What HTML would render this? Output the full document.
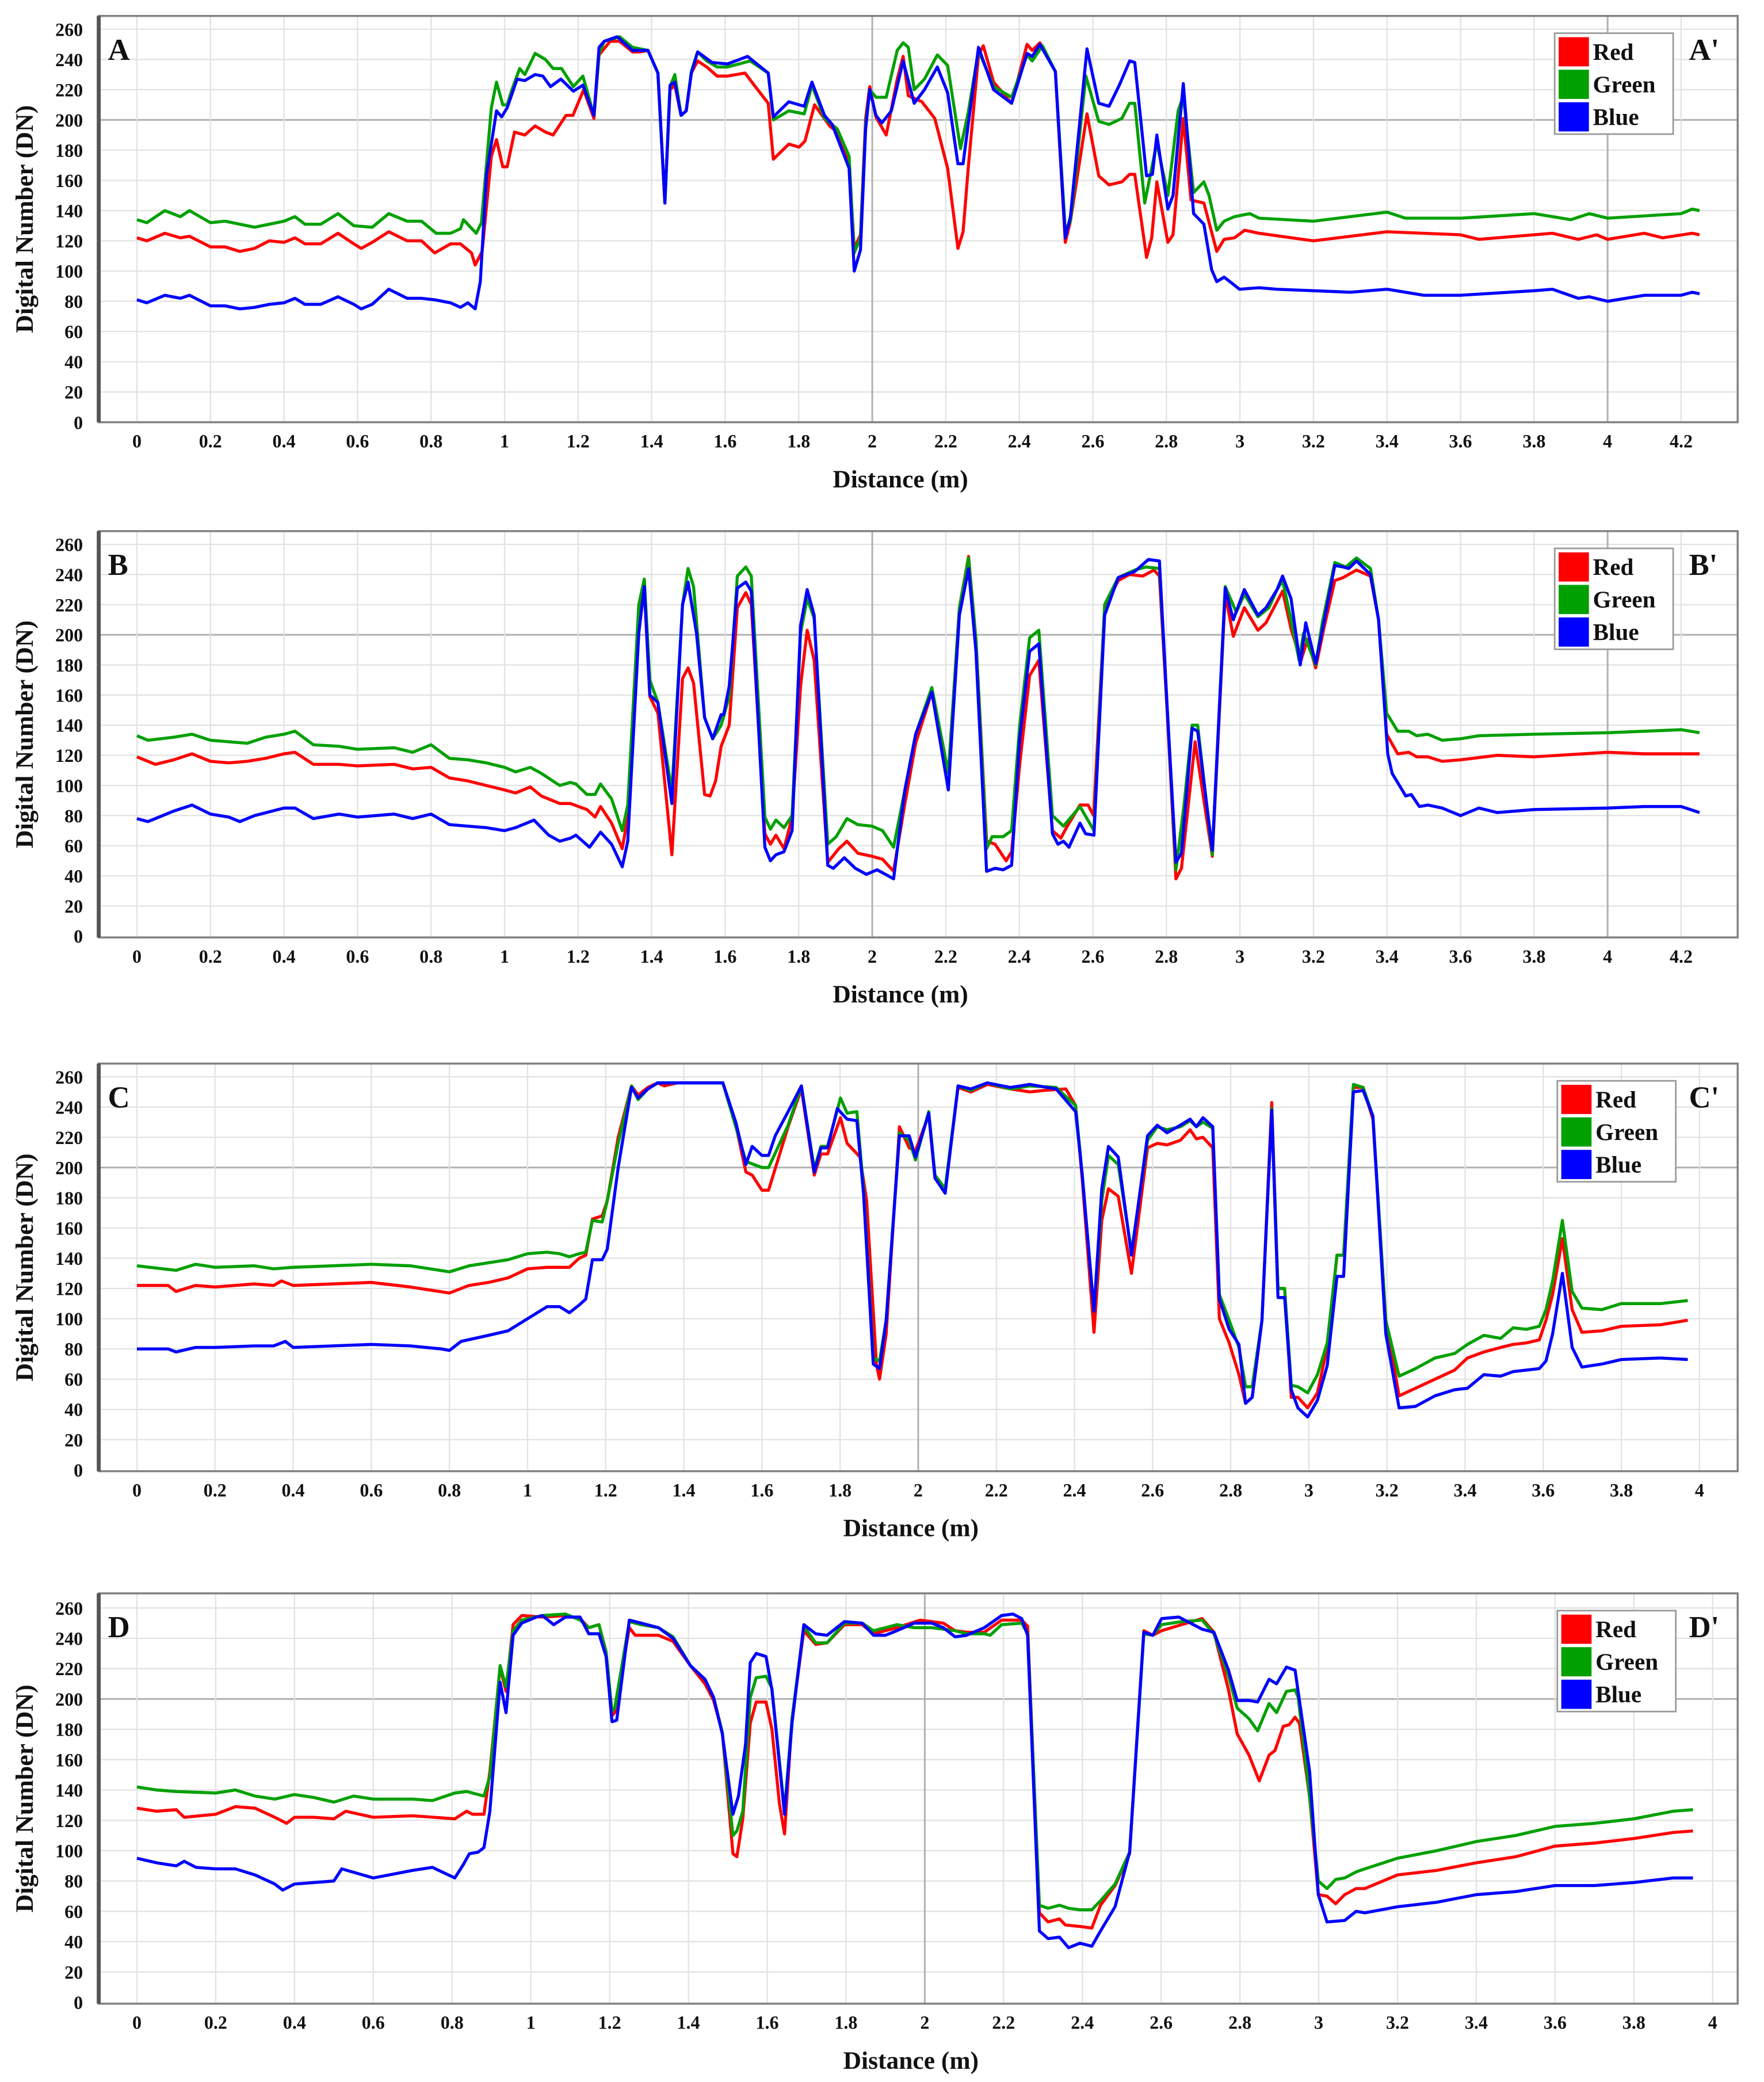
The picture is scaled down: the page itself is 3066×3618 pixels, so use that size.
<!DOCTYPE html>
<html><head><meta charset="utf-8"><style>
html,body{margin:0;padding:0;background:#fff;}
svg{display:block;}
text{font-family:"Liberation Serif",serif;font-weight:bold;fill:#111;}
</style></head><body>
<svg id="fig" width="3066" height="3618" viewBox="0 0 1340 1568" preserveAspectRatio="none" xmlns="http://www.w3.org/2000/svg"></svg>
<script>
// ---------- data (x in metres, y in DN) ----------
const yTicks=[0,20,40,60,80,100,120,140,160,180,200,220,240,260];
const xTicksAB=[0,0.2,0.4,0.6,0.8,1,1.2,1.4,1.6,1.8,2,2.2,2.4,2.6,2.8,3,3.2,3.4,3.6,3.8,4,4.2];
const xTicksCD=[0,0.2,0.4,0.6,0.8,1,1.2,1.4,1.6,1.8,2,2.2,2.4,2.6,2.8,3,3.2,3.4,3.6,3.8,4];
const panelLetters=["A","B","C","D"];

const aRed=[[0,122],[0.027,120],[0.076,125],[0.118,122],[0.143,123],[0.2,116],[0.24,116],[0.28,113],[0.32,115],[0.36,120],[0.4,119],[0.43,122],[0.457,118],[0.5,118],[0.547,125],[0.59,118],[0.61,115],[0.64,119],[0.685,126],[0.735,120],[0.774,120],[0.81,112],[0.853,118],[0.88,118],[0.91,112],[0.92,104],[0.939,113],[0.964,176],[0.978,187],[0.995,169],[1.007,169],[1.027,192],[1.055,190],[1.083,196],[1.111,192],[1.132,190],[1.167,203],[1.186,203],[1.215,220],[1.243,201],[1.257,243],[1.287,252],[1.313,252],[1.348,245],[1.369,245],[1.39,246],[1.417,231],[1.436,145],[1.45,220],[1.463,223],[1.48,203],[1.494,206],[1.508,231],[1.525,239],[1.55,235],[1.578,229],[1.606,229],[1.654,231],[1.682,222],[1.717,211],[1.731,174],[1.773,184],[1.801,182],[1.817,186],[1.843,210],[1.884,196],[1.905,192],[1.937,171],[1.951,115],[1.968,124],[1.982,201],[1.993,222],[2.01,202],[2.038,190],[2.068,227],[2.084,242],[2.098,216],[2.135,212],[2.17,201],[2.205,168],[2.233,115],[2.247,126],[2.261,168],[2.289,243],[2.302,249],[2.33,225],[2.379,211],[2.421,250],[2.435,246],[2.456,251],[2.498,232],[2.525,119],[2.539,133],[2.584,204],[2.616,163],[2.644,157],[2.679,159],[2.7,164],[2.714,164],[2.746,109],[2.76,122],[2.774,159],[2.804,119],[2.818,124],[2.846,201],[2.867,147],[2.902,145],[2.937,113],[2.957,121],[2.985,122],[3.013,127],[3.052,125],[3.2,120],[3.4,126],[3.6,124],[3.65,121],[3.8,124],[3.85,125],[3.92,121],[3.97,124],[4.0,121],[4.1,125],[4.15,122],[4.23,125],[4.25,124]];
const aGreen=[[0,134],[0.027,132],[0.076,140],[0.118,136],[0.143,140],[0.2,132],[0.24,133],[0.28,131],[0.32,129],[0.4,133],[0.43,136],[0.457,131],[0.5,131],[0.547,138],[0.59,130],[0.64,129],[0.685,138],[0.735,133],[0.774,133],[0.814,125],[0.853,125],[0.88,128],[0.888,134],[0.923,125],[0.937,132],[0.964,208],[0.978,225],[0.995,210],[1.007,210],[1.02,220],[1.041,234],[1.055,230],[1.083,244],[1.111,240],[1.132,234],[1.155,234],[1.187,222],[1.213,229],[1.243,203],[1.257,244],[1.271,252],[1.313,255],[1.348,248],[1.39,246],[1.417,231],[1.436,145],[1.45,222],[1.463,230],[1.48,203],[1.494,206],[1.508,232],[1.525,245],[1.55,239],[1.578,235],[1.606,235],[1.668,239],[1.717,231],[1.731,200],[1.773,206],[1.815,204],[1.836,223],[1.87,201],[1.905,194],[1.937,176],[1.951,112],[1.968,122],[1.982,197],[1.993,220],[2.01,215],[2.038,215],[2.068,246],[2.084,251],[2.098,248],[2.114,220],[2.142,227],[2.177,243],[2.205,236],[2.24,181],[2.261,205],[2.289,246],[2.33,222],[2.379,215],[2.421,243],[2.435,239],[2.463,249],[2.498,232],[2.525,127],[2.539,133],[2.581,229],[2.616,199],[2.644,197],[2.679,201],[2.7,211],[2.714,211],[2.741,145],[2.774,185],[2.804,150],[2.832,206],[2.846,216],[2.874,152],[2.902,159],[2.916,150],[2.937,127],[2.957,133],[2.985,136],[3.027,138],[3.052,135],[3.2,133],[3.4,139],[3.45,135],[3.6,135],[3.8,138],[3.9,134],[3.95,138],[4.0,135],[4.2,138],[4.23,141],[4.25,140]];
const aBlue=[[0,81],[0.027,79],[0.076,84],[0.118,82],[0.143,84],[0.2,77],[0.24,77],[0.28,75],[0.32,76],[0.36,78],[0.4,79],[0.43,82],[0.457,78],[0.5,78],[0.547,83],[0.59,78],[0.61,75],[0.64,78],[0.685,88],[0.735,82],[0.774,82],[0.81,81],[0.853,79],[0.88,76],[0.9,79],[0.92,75],[0.934,93],[0.951,164],[0.978,206],[0.992,202],[1.007,208],[1.034,227],[1.055,226],[1.083,230],[1.104,229],[1.125,222],[1.153,227],[1.187,219],[1.213,223],[1.243,203],[1.257,248],[1.271,252],[1.306,255],[1.348,246],[1.39,246],[1.417,231],[1.436,145],[1.45,223],[1.463,225],[1.48,203],[1.494,206],[1.508,231],[1.525,245],[1.564,238],[1.606,237],[1.661,242],[1.717,231],[1.731,202],[1.773,212],[1.815,209],[1.836,225],[1.87,203],[1.891,197],[1.937,168],[1.951,100],[1.968,114],[1.982,194],[1.993,220],[2.01,203],[2.026,198],[2.052,206],[2.084,239],[2.114,211],[2.142,220],[2.177,235],[2.205,218],[2.233,171],[2.247,171],[2.261,197],[2.289,248],[2.33,220],[2.379,211],[2.421,244],[2.435,242],[2.456,250],[2.498,232],[2.525,122],[2.539,136],[2.584,247],[2.616,211],[2.644,209],[2.672,223],[2.7,239],[2.714,238],[2.746,163],[2.762,164],[2.774,190],[2.804,141],[2.818,150],[2.846,224],[2.874,138],[2.902,131],[2.923,101],[2.937,93],[2.957,96],[2.999,88],[3.052,89],[3.1,88],[3.3,86],[3.4,88],[3.5,84],[3.6,84],[3.8,87],[3.85,88],[3.92,82],[3.95,83],[4.0,80],[4.1,84],[4.2,84],[4.23,86],[4.25,85]];

const bRed=[[0,119],[0.05,114],[0.1,117],[0.15,121],[0.2,116],[0.25,115],[0.3,116],[0.35,118],[0.4,121],[0.43,122],[0.48,114],[0.55,114],[0.6,113],[0.7,114],[0.75,111],[0.8,112],[0.85,105],[0.9,103],[0.95,100],[1.0,97],[1.03,95],[1.07,99],[1.1,93],[1.15,88],[1.179,88],[1.224,84],[1.246,79],[1.261,86],[1.291,75],[1.32,58],[1.335,79],[1.365,218],[1.38,231],[1.395,159],[1.417,148],[1.455,54],[1.484,171],[1.499,178],[1.514,168],[1.544,94],[1.559,93],[1.574,103],[1.589,126],[1.611,140],[1.633,218],[1.656,228],[1.671,220],[1.708,68],[1.723,61],[1.738,67],[1.76,58],[1.782,79],[1.805,166],[1.823,203],[1.842,183],[1.879,49],[1.909,58],[1.931,63],[1.961,55],[1.999,53],[2.028,51],[2.058,43],[2.088,87],[2.118,128],[2.162,162],[2.207,108],[2.237,218],[2.262,252],[2.282,197],[2.311,63],[2.334,61],[2.364,50],[2.379,56],[2.401,114],[2.428,173],[2.453,183],[2.49,70],[2.513,65],[2.528,72],[2.565,87],[2.587,87],[2.602,80],[2.632,218],[2.669,236],[2.699,240],[2.736,239],[2.766,243],[2.781,239],[2.803,145],[2.826,38],[2.841,45],[2.878,129],[2.925,53],[2.96,227],[2.982,199],[3.012,218],[3.049,203],[3.071,208],[3.116,229],[3.139,204],[3.166,183],[3.184,197],[3.206,178],[3.228,204],[3.258,236],[3.281,238],[3.317,243],[3.355,239],[3.377,210],[3.399,134],[3.429,121],[3.459,122],[3.481,119],[3.511,119],[3.55,116],[3.6,117],[3.7,120],[3.8,119],[4.0,122],[4.1,121],[4.25,121]];
const bGreen=[[0,133],[0.03,130],[0.1,132],[0.15,134],[0.2,130],[0.25,129],[0.3,128],[0.35,132],[0.4,134],[0.43,136],[0.48,127],[0.55,126],[0.6,124],[0.7,125],[0.75,122],[0.8,127],[0.85,118],[0.9,117],[0.95,115],[1.0,112],[1.03,109],[1.07,112],[1.1,108],[1.15,100],[1.179,102],[1.194,101],[1.224,94],[1.246,94],[1.261,101],[1.291,91],[1.32,70],[1.335,87],[1.365,220],[1.38,237],[1.395,170],[1.417,155],[1.455,96],[1.484,220],[1.499,244],[1.514,232],[1.544,145],[1.566,131],[1.589,140],[1.611,159],[1.633,239],[1.656,245],[1.671,239],[1.708,79],[1.723,71],[1.738,77],[1.76,72],[1.782,80],[1.805,201],[1.823,224],[1.842,211],[1.879,61],[1.902,66],[1.931,78],[1.961,74],[1.999,73],[2.028,70],[2.058,59],[2.088,96],[2.118,134],[2.162,165],[2.207,108],[2.237,218],[2.262,251],[2.282,197],[2.311,58],[2.326,66],[2.356,66],[2.379,70],[2.401,140],[2.428,198],[2.453,203],[2.49,80],[2.52,73],[2.565,86],[2.603,70],[2.632,220],[2.669,238],[2.714,243],[2.744,245],[2.781,244],[2.803,148],[2.826,44],[2.848,87],[2.87,140],[2.885,140],[2.925,54],[2.96,232],[2.99,215],[3.012,227],[3.049,212],[3.079,218],[3.101,230],[3.116,236],[3.139,210],[3.161,183],[3.173,201],[3.206,180],[3.224,208],[3.258,248],[3.288,245],[3.317,251],[3.355,244],[3.377,210],[3.399,148],[3.429,136],[3.459,136],[3.481,133],[3.511,134],[3.55,130],[3.6,131],[3.65,133],[3.8,134],[4.0,135],[4.2,137],[4.25,135]];
const bBlue=[[0,78],[0.03,76],[0.1,83],[0.15,87],[0.2,81],[0.25,79],[0.28,76],[0.32,80],[0.4,85],[0.43,85],[0.48,78],[0.55,81],[0.6,79],[0.7,81],[0.75,78],[0.8,81],[0.85,74],[0.9,73],[0.95,72],[1.0,70],[1.03,72],[1.08,77],[1.12,67],[1.15,63],[1.179,65],[1.194,67],[1.231,59],[1.261,69],[1.291,61],[1.32,46],[1.335,63],[1.365,201],[1.38,232],[1.395,160],[1.417,155],[1.455,88],[1.484,220],[1.499,235],[1.522,201],[1.544,145],[1.566,131],[1.589,147],[1.596,147],[1.611,166],[1.633,231],[1.656,235],[1.671,229],[1.708,59],[1.723,50],[1.738,54],[1.76,56],[1.782,70],[1.805,206],[1.823,230],[1.842,213],[1.879,47],[1.894,45],[1.924,52],[1.954,45],[1.984,41],[2.013,44],[2.036,41],[2.058,38],[2.088,96],[2.118,134],[2.162,162],[2.207,97],[2.237,213],[2.262,244],[2.282,189],[2.311,43],[2.334,45],[2.356,44],[2.379,47],[2.401,131],[2.428,189],[2.453,194],[2.49,68],[2.505,61],[2.52,63],[2.535,59],[2.565,75],[2.58,68],[2.603,67],[2.632,213],[2.669,238],[2.714,242],[2.751,250],[2.781,249],[2.803,148],[2.826,49],[2.841,55],[2.87,138],[2.885,136],[2.925,57],[2.96,231],[2.982,210],[3.012,230],[3.049,213],[3.071,218],[3.101,230],[3.116,239],[3.139,224],[3.164,180],[3.179,208],[3.206,181],[3.224,203],[3.258,246],[3.281,245],[3.296,244],[3.317,249],[3.355,240],[3.377,210],[3.402,121],[3.414,108],[3.451,93],[3.466,94],[3.488,86],[3.511,87],[3.55,85],[3.6,80],[3.65,85],[3.7,82],[3.8,84],[4.0,85],[4.1,86],[4.2,86],[4.25,82]];

const cRed=[[0,122],[0.08,122],[0.1,118],[0.15,122],[0.2,121],[0.3,123],[0.35,122],[0.37,125],[0.4,122],[0.6,124],[0.7,121],[0.8,117],[0.85,122],[0.9,124],[0.95,127],[1.0,133],[1.05,134],[1.082,134],[1.107,134],[1.132,140],[1.149,142],[1.166,166],[1.191,168],[1.204,178],[1.232,220],[1.266,254],[1.283,248],[1.308,253],[1.333,256],[1.35,254],[1.383,256],[1.5,256],[1.533,228],[1.559,197],[1.575,195],[1.6,185],[1.617,185],[1.642,206],[1.667,227],[1.701,252],[1.734,195],[1.751,209],[1.768,209],[1.801,233],[1.818,216],[1.851,207],[1.868,178],[1.893,70],[1.901,60],[1.918,90],[1.952,227],[1.977,213],[1.993,211],[2.027,235],[2.043,193],[2.069,185],[2.102,253],[2.135,250],[2.177,255],[2.236,252],[2.286,250],[2.32,251],[2.378,252],[2.403,241],[2.42,192],[2.45,91],[2.47,165],[2.487,186],[2.512,181],[2.546,130],[2.587,213],[2.612,216],[2.637,215],[2.671,218],[2.696,225],[2.712,219],[2.729,220],[2.754,213],[2.771,100],[2.796,84],[2.821,63],[2.838,44],[2.855,48],[2.88,99],[2.905,243],[2.921,120],[2.938,120],[2.955,48],[2.972,48],[2.997,41],[3.022,51],[3.047,81],[3.072,142],[3.089,142],[3.114,253],[3.139,253],[3.164,232],[3.197,99],[3.231,49],[3.273,54],[3.323,60],[3.373,66],[3.406,74],[3.448,78],[3.491,81],[3.523,83],[3.557,84],[3.59,86],[3.607,99],[3.624,116],[3.649,153],[3.674,106],[3.699,91],[3.75,92],[3.8,95],[3.9,96],[3.97,99]];
const cGreen=[[0,135],[0.1,132],[0.15,136],[0.2,134],[0.3,135],[0.35,133],[0.4,134],[0.6,136],[0.7,135],[0.8,131],[0.85,135],[0.9,137],[0.95,139],[1.0,143],[1.05,144],[1.082,143],[1.107,141],[1.132,143],[1.149,144],[1.166,165],[1.191,164],[1.204,178],[1.232,216],[1.266,254],[1.283,245],[1.308,252],[1.333,256],[1.5,256],[1.533,227],[1.559,204],[1.6,200],[1.617,200],[1.642,214],[1.667,228],[1.701,254],[1.734,199],[1.751,214],[1.768,214],[1.801,246],[1.818,236],[1.843,237],[1.86,186],[1.885,74],[1.901,72],[1.918,99],[1.952,223],[1.977,218],[1.993,205],[2.027,237],[2.043,195],[2.069,186],[2.102,254],[2.135,251],[2.177,256],[2.236,252],[2.286,254],[2.353,253],[2.403,241],[2.42,195],[2.45,105],[2.47,178],[2.487,208],[2.512,202],[2.546,144],[2.587,218],[2.612,227],[2.637,225],[2.671,227],[2.696,231],[2.712,227],[2.729,230],[2.754,226],[2.771,116],[2.796,99],[2.821,81],[2.838,55],[2.855,55],[2.88,99],[2.905,239],[2.921,120],[2.938,120],[2.955,56],[2.972,55],[2.997,51],[3.022,63],[3.047,84],[3.072,142],[3.089,142],[3.114,255],[3.139,253],[3.164,234],[3.197,99],[3.231,62],[3.273,67],[3.323,74],[3.373,77],[3.406,83],[3.448,89],[3.491,87],[3.523,94],[3.557,93],[3.59,95],[3.607,106],[3.624,125],[3.649,165],[3.674,118],[3.699,107],[3.75,106],[3.8,110],[3.9,110],[3.97,112]];
const cBlue=[[0,80],[0.08,80],[0.1,78],[0.15,81],[0.2,81],[0.3,82],[0.35,82],[0.38,85],[0.4,81],[0.5,82],[0.6,83],[0.7,82],[0.78,80],[0.8,79],[0.83,85],[0.9,89],[0.95,92],[1.0,100],[1.05,108],[1.082,108],[1.107,104],[1.132,109],[1.149,113],[1.166,139],[1.191,139],[1.204,146],[1.232,200],[1.266,253],[1.283,246],[1.308,252],[1.333,256],[1.5,256],[1.533,230],[1.559,202],[1.575,214],[1.6,208],[1.617,208],[1.634,221],[1.667,237],[1.701,254],[1.734,197],[1.751,213],[1.768,213],[1.793,239],[1.818,232],[1.843,231],[1.86,183],[1.885,70],[1.901,67],[1.918,99],[1.952,221],[1.977,221],[1.993,207],[2.027,236],[2.043,193],[2.069,183],[2.102,254],[2.135,252],[2.177,256],[2.236,253],[2.286,255],[2.353,252],[2.403,237],[2.42,195],[2.45,105],[2.47,186],[2.487,214],[2.512,207],[2.546,142],[2.587,221],[2.612,228],[2.637,223],[2.671,228],[2.696,232],[2.712,227],[2.729,233],[2.754,227],[2.771,113],[2.796,93],[2.821,83],[2.838,44],[2.855,48],[2.88,99],[2.905,238],[2.921,114],[2.938,114],[2.955,53],[2.972,41],[2.997,35],[3.022,46],[3.047,69],[3.072,128],[3.089,128],[3.114,250],[3.139,251],[3.164,234],[3.197,90],[3.231,41],[3.273,42],[3.323,49],[3.373,53],[3.406,54],[3.448,63],[3.491,62],[3.523,65],[3.557,66],[3.59,67],[3.607,72],[3.624,90],[3.649,130],[3.674,81],[3.699,68],[3.75,70],[3.8,73],[3.9,74],[3.97,73]];

const dRed=[[0,128],[0.05,126],[0.1,127],[0.12,122],[0.2,124],[0.25,129],[0.3,128],[0.35,122],[0.38,118],[0.4,122],[0.45,122],[0.5,121],[0.53,126],[0.6,122],[0.7,123],[0.807,121],[0.837,126],[0.852,124],[0.881,124],[0.896,152],[0.922,221],[0.937,205],[0.955,249],[0.977,255],[1.029,254],[1.088,255],[1.125,253],[1.147,247],[1.173,249],[1.191,231],[1.206,189],[1.213,191],[1.25,247],[1.265,242],[1.324,242],[1.361,238],[1.405,222],[1.442,210],[1.464,199],[1.486,178],[1.513,98],[1.523,96],[1.538,121],[1.557,184],[1.572,198],[1.597,198],[1.612,180],[1.631,131],[1.644,111],[1.663,187],[1.693,245],[1.723,236],[1.752,237],[1.796,249],[1.841,249],[1.87,243],[1.929,247],[1.988,252],[2.047,250],[2.077,245],[2.106,244],[2.151,244],[2.195,252],[2.246,252],[2.261,248],[2.291,59],[2.313,53],[2.342,55],[2.357,51],[2.394,50],[2.424,49],[2.446,64],[2.483,77],[2.52,98],[2.556,245],[2.579,242],[2.601,245],[2.652,249],[2.704,253],[2.734,244],[2.771,206],[2.793,177],[2.823,163],[2.849,146],[2.874,163],[2.889,166],[2.91,182],[2.925,183],[2.94,188],[2.951,184],[2.977,135],[2.999,71],[3.021,70],[3.043,65],[3.066,71],[3.095,75],[3.117,75],[3.2,84],[3.3,87],[3.4,92],[3.5,96],[3.6,103],[3.7,105],[3.8,108],[3.9,112],[3.95,113]];
const dGreen=[[0,142],[0.05,140],[0.1,139],[0.2,138],[0.25,140],[0.3,136],[0.35,134],[0.4,137],[0.45,135],[0.5,132],[0.55,136],[0.6,134],[0.7,134],[0.75,133],[0.807,138],[0.837,139],[0.881,136],[0.896,149],[0.922,222],[0.937,208],[0.955,245],[0.977,252],[1.029,255],[1.088,256],[1.125,252],[1.147,247],[1.173,249],[1.191,231],[1.206,192],[1.213,194],[1.25,251],[1.28,249],[1.324,247],[1.361,241],[1.405,222],[1.442,213],[1.464,201],[1.486,178],[1.513,110],[1.523,113],[1.538,126],[1.557,201],[1.572,214],[1.597,215],[1.612,207],[1.644,126],[1.663,187],[1.693,248],[1.723,237],[1.752,237],[1.796,250],[1.841,250],[1.87,245],[1.9,247],[1.929,249],[1.973,247],[2.018,247],[2.077,245],[2.106,243],[2.151,243],[2.166,242],[2.195,249],[2.246,250],[2.261,243],[2.291,64],[2.313,62],[2.342,64],[2.365,62],[2.394,61],[2.424,61],[2.446,67],[2.483,78],[2.52,99],[2.556,243],[2.579,242],[2.601,249],[2.652,251],[2.704,252],[2.734,243],[2.771,215],[2.793,194],[2.823,187],[2.845,179],[2.874,197],[2.893,191],[2.918,205],[2.94,206],[2.948,201],[2.977,135],[2.999,80],[3.021,75],[3.043,81],[3.066,82],[3.095,86],[3.117,88],[3.2,95],[3.3,100],[3.4,106],[3.5,110],[3.6,116],[3.7,118],[3.8,121],[3.9,126],[3.95,127]];
const dBlue=[[0,95],[0.05,92],[0.1,90],[0.12,93],[0.15,89],[0.2,88],[0.25,88],[0.3,84],[0.35,78],[0.37,74],[0.4,78],[0.5,80],[0.52,88],[0.6,82],[0.7,87],[0.75,89],[0.807,82],[0.829,91],[0.844,98],[0.866,99],[0.881,102],[0.896,126],[0.922,211],[0.937,191],[0.955,242],[0.977,250],[1.014,254],[1.029,255],[1.058,249],[1.088,254],[1.125,254],[1.147,243],[1.173,243],[1.191,228],[1.206,185],[1.218,186],[1.25,252],[1.28,250],[1.324,247],[1.361,240],[1.405,222],[1.442,213],[1.464,201],[1.486,177],[1.513,124],[1.527,136],[1.545,170],[1.557,224],[1.572,230],[1.597,228],[1.612,206],[1.644,124],[1.663,184],[1.693,249],[1.723,243],[1.752,242],[1.796,251],[1.841,250],[1.87,242],[1.9,242],[1.929,245],[1.973,250],[2.018,250],[2.047,247],[2.077,241],[2.106,242],[2.151,247],[2.195,255],[2.224,256],[2.246,253],[2.261,242],[2.291,47],[2.313,42],[2.342,43],[2.365,36],[2.394,39],[2.424,37],[2.446,47],[2.483,63],[2.52,99],[2.556,244],[2.579,242],[2.601,253],[2.645,254],[2.704,246],[2.734,244],[2.771,219],[2.793,199],[2.823,199],[2.845,198],[2.874,213],[2.893,210],[2.918,221],[2.94,219],[2.977,152],[2.999,71],[3.021,53],[3.066,54],[3.095,60],[3.117,59],[3.2,63],[3.3,66],[3.4,71],[3.5,73],[3.6,77],[3.7,77],[3.8,79],[3.9,82],[3.95,82]];

const panelSeries=[[aRed,aGreen,aBlue],[bRed,bGreen,bBlue],[cRed,cGreen,cBlue],[dRed,dGreen,dBlue]];
const seriesNames=["Red","Green","Blue"];
const seriesColors=["#ff0000","#00a000","#0000ff"];

// ---------- layout (in viewBox units) ----------
const panels=[
 {top:12,bottom:318,y0:318,y260:22,x0:104,pxm:279.3,ticks:xTicksAB,darkX:[2,4]},
 {top:400,bottom:706,y0:705,y260:410,x0:104,pxm:279.3,ticks:xTicksAB,darkX:[2,4]},
 {top:801,bottom:1108,y0:1107,y260:811,x0:104,pxm:296.75,ticks:xTicksCD,darkX:[2]},
 {top:1200,bottom:1509,y0:1508,y260:1211,x0:104,pxm:299.25,ticks:xTicksCD,darkX:[2]}
];
const LEFT=75, RIGHT=1320;
const NS="http://www.w3.org/2000/svg";
const svg=document.getElementById("fig");
function mk(tag,attrs,parent){const e=document.createElementNS(NS,tag);for(const k in attrs)e.setAttribute(k,attrs[k]);(parent||svg).appendChild(e);return e;}

panels.forEach((p,i)=>{
  const L=panelLetters[i].toLowerCase();
  const g=mk("g",{});
  
  
  const xs=v=>p.x0+v*p.pxm;
  const ys=v=>p.y0-(v/260)*(p.y0-p.y260);
  mk("rect",{x:LEFT,y:p.top,width:RIGHT-LEFT,height:p.bottom-p.top,fill:"#fff"},g);
  const grid=mk("g",{},g);
  
  
  yTicks.forEach(t=>{
    if(t===0)return;
    mk("line",{x1:LEFT,x2:RIGHT,y1:ys(t),y2:ys(t),stroke:t===200?"#b0b0b0":"#e2e2e2","stroke-width":t===200?1.3:1},grid);
  });
  p.ticks.forEach(t=>{
    const dark=p.darkX.includes(t);
    mk("line",{x1:xs(t),x2:xs(t),y1:p.top,y2:p.bottom,stroke:dark?"#b0b0b0":"#e2e2e2","stroke-width":dark?1.3:1},grid);
  });
  mk("rect",{x:LEFT,y:p.top,width:RIGHT-LEFT,height:p.bottom-p.top,fill:"none",stroke:"#808080","stroke-width":1.5},g);
  const ax=mk("line",{x1:LEFT,x2:LEFT,y1:p.top,y2:p.bottom,stroke:"#555","stroke-width":3},g);
  
  
  yTicks.forEach(t=>{
    const tx=mk("text",{x:63,y:ys(t)+5,"text-anchor":"end","font-size":14},g);
    
    
    tx.textContent=t;
  });
  p.ticks.forEach(t=>{
    const tx=mk("text",{x:xs(t),y:p.bottom+19,"text-anchor":"middle","font-size":14},g);
    
    
    tx.textContent=String(t);
  });
  const xt=mk("text",{x:684+(i>=2?8:0),y:p.bottom+49,"text-anchor":"middle","font-size":19},g);
  
  
  xt.textContent="Distance (m)";
  const cy=(p.top+p.bottom)/2;
  const yt=mk("text",{x:25,y:cy,"text-anchor":"middle","font-size":19,transform:"rotate(-90 25 "+cy+")"},g);
  
  
  yt.textContent="Digital Number (DN)";
  panelSeries[i].forEach((s,k)=>{
    const d=s.map((pt,j)=>(j?"L":"M")+xs(pt[0]).toFixed(2)+" "+ys(pt[1]).toFixed(2)).join(" ");
    const path=mk("path",{d:d,fill:"none",stroke:seriesColors[k],"stroke-width":2.3,"stroke-linejoin":"round"},g);
    
    
  });
  const l1=mk("text",{x:82,y:p.top+33,"font-size":23},g);
  
  
  l1.textContent=panelLetters[i];
  const l2=mk("text",{x:1283,y:p.top+33,"font-size":23},g);
  
  
  l2.textContent=panelLetters[i]+"'";
  const lg=mk("g",{},g);
  
  
  const lx=1181+(i>=2?2:0), ly=p.top+13;
  mk("rect",{x:lx,y:ly,width:90,height:76,fill:"#fff",stroke:"#999","stroke-width":1.2},lg);
  seriesNames.forEach((n,k)=>{
    const sw=mk("rect",{x:lx+3,y:ly+3+k*24.5,width:23,height:22,fill:seriesColors[k]},lg);
    
    
    const t=mk("text",{x:lx+29,y:ly+20+k*24.5,"font-size":18},lg);
    
    
    t.textContent=n;
  });
});
</script>
</body></html>
